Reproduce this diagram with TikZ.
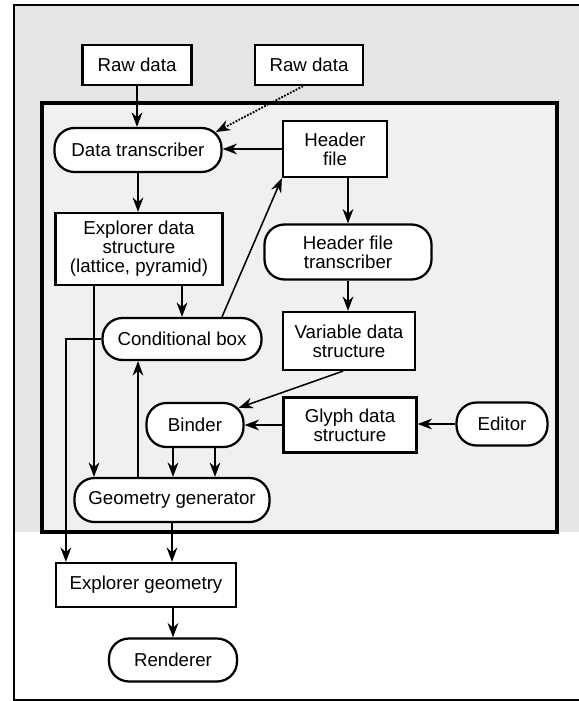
\documentclass[tikz,border=0pt]{standalone}
\usepackage{fontspec}
\setmainfont{Liberation Sans}
\usetikzlibrary{calc, positioning, arrows.meta}
\tikzset{datarec/.style={draw, line width=1.6pt, fill=white, align=center, inner sep=0pt},
    procrec/.style={draw, line width=1.6pt, fill=white, align=center, inner sep=0pt, rounded corners=0.5cm},
    flowarrow/.style={line width=1.1pt, -{Stealth[length=3.6mm, width=2.7mm]}}
}

\begin{document}
\begin{tikzpicture}[font=\fontsize{13.3}{13.6}\selectfont]
\useasboundingbox (0,0) rectangle (14.475,-17.525);

% page background and frames
\fill[gray!20] (0.35,-0.125) rectangle (14.475,-13.3);
\draw[line width=1.4pt] (14.475,-0.125) -- (0.35,-0.125) -- (0.35,-17.5) -- (14.475,-17.5);
\node[draw, line width=2.4pt, fill=gray!12, inner sep=0pt, minimum width=12.875cm, minimum height=10.725cm] (largerec) at (7.4875,-7.9375) {};

\node[datarec, minimum width=2.725cm, minimum height=1cm] (rawA) at (3.425,-1.625) {Raw data};
\node[datarec, minimum width=2.7cm, minimum height=1cm] (rawB) at (7.725,-1.625) {Raw data};
\node[procrec, minimum width=4.175cm, minimum height=1.1cm] (transcriber) at (3.45,-3.75) {Data transcriber};
\node[datarec, minimum width=2.6cm, minimum height=1.4cm] (header) at (8.375,-3.725) {Header\\file};
\node[datarec, minimum width=4.175cm, minimum height=1.8cm] (explorerdata) at (3.475,-6.225) {Explorer data\\structure\\(lattice, pyramid)};
\node[procrec, minimum width=4.175cm, minimum height=1.375cm] (headertrans) at (8.7,-6.3) {Header file\\transcriber};
\node[procrec, minimum width=3.975cm, minimum height=1.05cm] (condbox) at (4.55,-8.475) {Conditional box};
\node[datarec, minimum width=3.3cm, minimum height=1.45cm] (variable) at (8.725,-8.525) {Variable data\\structure};
\node[procrec, minimum width=2.425cm, minimum height=1.1cm] (binder) at (4.875,-10.625) {Binder};
\node[datarec, minimum width=3.325cm, minimum height=1.375cm] (glyph) at (8.75,-10.625) {Glyph data\\structure};
\node[procrec, minimum width=2.275cm, minimum height=1.075cm] (editor) at (12.55,-10.6) {Editor};
\node[procrec, minimum width=4.875cm, minimum height=1.1cm] (geomgen) at (4.3,-12.5) {Geometry generator};
\node[datarec, minimum width=4.5cm, minimum height=1.1cm] (explgeom) at (3.65,-14.625) {Explorer geometry};
\node[procrec, minimum width=3.2cm, minimum height=1.075cm] (renderer) at (4.325,-16.5) {Renderer};

\coordinate (edleft) at ($(explorerdata.south)+(-1.125,0)$);
\coordinate (cbup) at ($(condbox.south)+(-1.1,0)$);
\coordinate (egleft) at ($(explgeom.north west)+(0.275,0)$);

\draw[flowarrow] (rawA.south) -- (rawA.south |- transcriber.north);
\draw[flowarrow, line width=1.3pt, densely dotted] ($(rawB.south)+(-0.15,0)$) -- ($(transcriber.east)+(-0.17,0.45)$);
\draw[flowarrow] (header.west) -- (header.west -| transcriber.east);
\draw[flowarrow] (transcriber.south) -- (transcriber.south |- explorerdata.north);
\draw[flowarrow] (headertrans.north |- header.south) -- (headertrans.north);
\draw[flowarrow] (condbox.north |- explorerdata.south) -- (condbox.north);
\draw[flowarrow] ($(condbox.north)+(1,0)$) -- (header.south west);
\draw[flowarrow] (headertrans.south) -- (headertrans.south |- variable.north);
\draw[flowarrow] ($(variable.south)+(-0.15,0)$) -- ($(binder.north east)+(-0.15,-0.15)$);
\draw[flowarrow] (glyph.west) -- (glyph.west -| binder.east);
\draw[flowarrow] (editor.west) -- (editor.west -| glyph.east);
\foreach \dx in {-0.55,0.5} {
    \coordinate (bnd) at ($(binder.south)+(\dx,0)$);
    \draw[flowarrow] (bnd) -- (bnd |- geomgen.north);
}
\draw[flowarrow] (edleft) -- (edleft |- geomgen.north);
\draw[flowarrow] (cbup |- geomgen.north) -- (cbup);
\draw[flowarrow] (condbox.west) -| (egleft);
\draw[flowarrow] (geomgen.south) -- (geomgen.south |- explgeom.north);
\draw[flowarrow] (renderer.north |- explgeom.south) -- (renderer.north);

\end{tikzpicture}
\end{document}
